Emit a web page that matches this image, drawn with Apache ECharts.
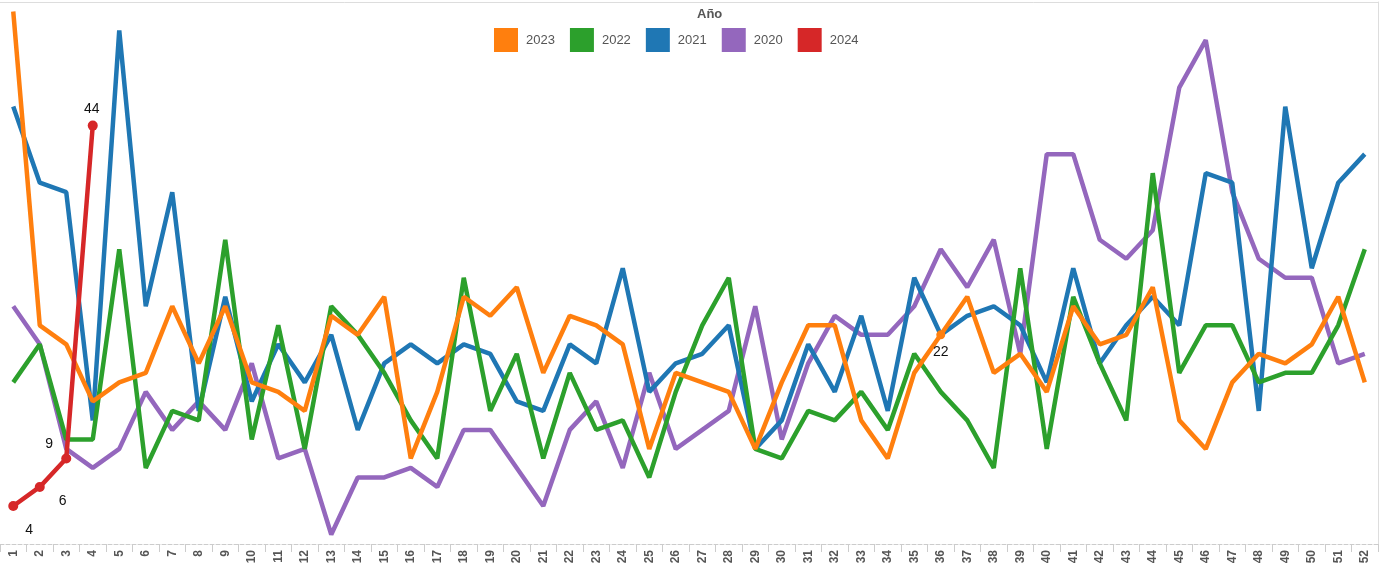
<!DOCTYPE html>
<html>
<head>
<meta charset="utf-8">
<script src="https://cdn.jsdelivr.net/npm/echarts@6/dist/echarts.min.js"></script>
<style>
  html, body { margin: 0; padding: 0; background: #fff; }
  #chart { width: 1385px; height: 569px; }
</style>
</head>
<body>
<div id="chart"></div>
<script>
const weeks = Array.from({length: 52}, (_, i) => String(i + 1));

const y2023 = [56,23,21,15,17,18,25,19,25,17,16,14,24,22,26,9,16,26,24,27,18,24,23,21,10,18,17,16,10,17,23,23,13,9,18,22,26,18,20,16,25,21,22,27,13,10,17,20,19,21,26,17];
const y2022 = [17,21,11,11,31,8,14,13,32,11,23,10,25,22,18,13,9,28,14,20,9,18,12,13,7,16,23,28,10,9,14,13,16,12,20,16,13,8,29,10,26,19,13,39,18,23,23,17,18,18,23,31];
const y2021 = [46,38,37,13,54,25,37,14,26,15,21,17,22,12,19,21,19,21,20,15,14,21,19,29,16,19,20,23,10,13,21,16,24,14,28,22,24,25,23,17,29,19,23,26,23,39,38,14,46,29,38,41];
const y2020 = [25,21,10,8,10,16,12,15,12,19,9,10,1,7,7,8,6,12,12,8,4,12,15,8,18,10,12,14,25,11,19,24,22,22,25,31,27,32,20,41,41,32,30,33,48,53,37,30,28,28,19,20];
const y2024 = [4,6,9,44];

const legendOrder = ['2023','2022','2021','2020','2024'];
const colors = {'2023':'#ff7f0e','2022':'#2ca02c','2021':'#1f77b4','2020':'#9467bd','2024':'#d62728'};

const highlightIndex2023 = 35; // week 36 labelled
const redLabelOffsets = [[16,24],[23,14],[-17,-14],[-1,-16]];

const LW = 4.5;
const font = 'Liberation Sans, Arial, sans-serif';

function plain(name, values) {
  return {
    name: name, type: 'line', data: values,
    showSymbol: false, symbol: 'none',
    lineStyle: { width: LW, color: colors[name] },
    itemStyle: { color: colors[name] },
    emphasis: { disabled: true },
    silent: true
  };
}

const s2023 = {
  name: '2023', type: 'line',
  data: y2023.map((v, i) => i === highlightIndex2023
    ? { value: v, symbolSize: 9, label: { show: true } }
    : { value: v, symbolSize: 0 }),
  symbol: 'circle',
  showSymbol: true,
  lineStyle: { width: LW, color: colors['2023'] },
  itemStyle: { color: colors['2023'] },
  label: { show: false, position: 'inside', offset: [0, 17], color: '#111', fontSize: 14, fontFamily: font },
  emphasis: { disabled: true },
  silent: true
};

const s2024 = {
  name: '2024', type: 'line',
  data: y2024.map((v, i) => ({ value: v, label: { offset: redLabelOffsets[i] } })),
  symbol: 'circle', symbolSize: 10, showSymbol: true,
  lineStyle: { width: LW, color: colors['2024'] },
  itemStyle: { color: colors['2024'] },
  label: { show: true, position: 'inside', color: '#111', fontSize: 14, fontFamily: font },
  emphasis: { disabled: true },
  silent: true
};

const chart = echarts.init(document.getElementById('chart'), null, { renderer: 'canvas' });
chart.setOption({
  animation: false,
  backgroundColor: '#fff',
  textStyle: { fontFamily: font },
  title: {
    text: 'Año', left: 692, top: 3,
    textStyle: { fontSize: 13, fontWeight: 'bold', color: '#555', fontFamily: font }
  },
  legend: {
    data: legendOrder, left: 494, top: 28, padding: 0,
    icon: 'rect', itemWidth: 24, itemHeight: 24, itemGap: 15,
    textStyle: { fontSize: 13, color: '#555', fontFamily: font, padding: [0, 0, 0, 3] },
    selectedMode: false
  },
  grid: { left: -1, right: 7, top: 2, bottom: 25, containLabel: false },
  xAxis: [{
    type: 'category', data: weeks, boundaryGap: true, position: 'bottom',
    axisLine: { show: true, lineStyle: { color: '#ccc', type: 'dashed', width: 1 } },
    axisTick: { show: true, length: 8, lineStyle: { color: '#ccc' } },
    axisLabel: { rotate: 90, fontSize: 12, fontWeight: 'bold', color: '#555', margin: 6, fontFamily: font, interval: 0 },
    splitLine: { show: false }
  }, {
    type: 'category', data: weeks, boundaryGap: true, position: 'top',
    axisLine: { show: true, lineStyle: { color: '#ddd', width: 1 } },
    axisTick: { show: false }, axisLabel: { show: false }, splitLine: { show: false }
  }],
  yAxis: {
    type: 'value', min: 0, max: 57, position: 'right',
    axisLine: { show: true, lineStyle: { color: '#ddd', width: 1 } },
    axisTick: { show: false }, axisLabel: { show: false }, splitLine: { show: false }
  },
  series: [plain('2020', y2020), plain('2021', y2021), plain('2022', y2022), s2023, s2024]
});
</script>
</body>
</html>
